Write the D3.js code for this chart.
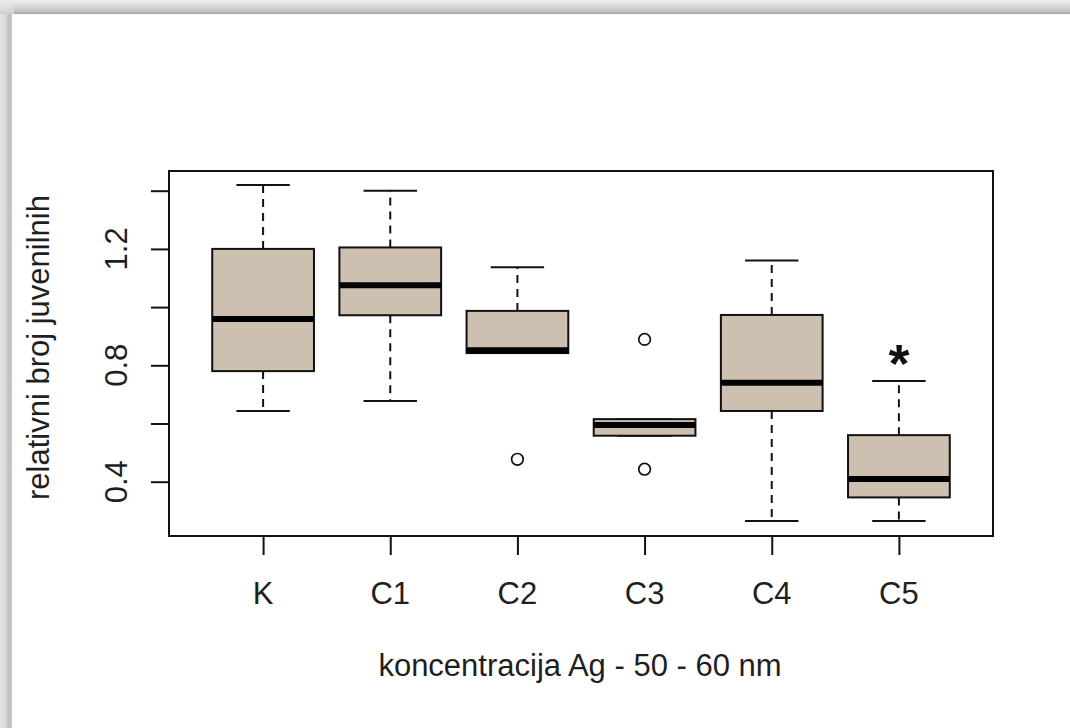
<!DOCTYPE html>
<html>
<head>
<meta charset="utf-8">
<script src="https://cdn.jsdelivr.net/npm/d3@7"></script>
<style>
  html, body { margin: 0; padding: 0; background: #fff; }
  svg { display: block; }
  text { font-family: "Liberation Sans", Arial, sans-serif; fill: #1f1f1f; }
</style>
</head>
<body>
<script>
// ---- data ----
const categories = ["K", "C1", "C2", "C3", "C4", "C5"];
const whiskerLow  = [0.643, 0.677, 0.842, 0.558, 0.265, 0.265];
const q1          = [0.780, 0.972, 0.842, 0.558, 0.643, 0.346];
const median      = [0.959, 1.075, 0.852, 0.595, 0.740, 0.409];
const q3          = [1.200, 1.205, 0.987, 0.615, 0.973, 0.560];
const whiskerHigh = [1.420, 1.400, 1.137, 0.615, 1.160, 0.746];
const outliers    = [[], [], [0.477], [0.889, 0.443], [], []];
const yTicks      = [0.4, 0.6, 0.8, 1.0, 1.2, 1.4];
const yTickLabels = ["0.4", "", "0.8", "", "1.2", ""];
const significant = [false, false, false, false, false, true];
const xTitle = "koncentracija Ag - 50 - 60 nm";
const yTitle = "relativni broj juvenilnih";

const W = 1070, H = 728;
const svg = d3.select("body").append("svg").attr("width", W).attr("height", H);

// ---- shadow frame of the picture ----
const defs = svg.append("defs");
const gTop = defs.append("linearGradient").attr("id", "gtop").attr("x1", 0).attr("y1", 0).attr("x2", 0).attr("y2", 1);
gTop.append("stop").attr("offset", "0%").attr("stop-color", "#eeeeee");
gTop.append("stop").attr("offset", "45%").attr("stop-color", "#d9d9d9");
gTop.append("stop").attr("offset", "85%").attr("stop-color", "#bdbdbd");
gTop.append("stop").attr("offset", "100%").attr("stop-color", "#9e9e9e");
const gLeft = defs.append("linearGradient").attr("id", "gleft").attr("x1", 0).attr("y1", 0).attr("x2", 1).attr("y2", 0);
gLeft.append("stop").attr("offset", "0%").attr("stop-color", "#e4e4e4");
gLeft.append("stop").attr("offset", "55%").attr("stop-color", "#d6d6d6");
gLeft.append("stop").attr("offset", "60%").attr("stop-color", "#c2c2c2");
gLeft.append("stop").attr("offset", "100%").attr("stop-color", "#c6c6c6");
svg.append("rect").attr("x", 0).attr("y", 0).attr("width", 12).attr("height", H).attr("fill", "url(#gleft)");
svg.append("rect").attr("x", 0).attr("y", 0).attr("width", W).attr("height", 14).attr("fill", "url(#gtop)");
svg.append("rect").attr("x", 0).attr("y", 0).attr("width", 14).attr("height", 14).attr("fill", "#e6e6e6").attr("opacity", 0.6);

// ---- scales ----
const plot = { left: 169, right: 993, top: 171, bottom: 536 };
const x = d3.scaleLinear().domain([0.26, categories.length + 0.74]).range([plot.left, plot.right]);
const y = d3.scaleLinear().domain([0.2134, 1.4677]).range([plot.bottom, plot.top]);
const boxW = x(1.8) - x(1);       // boxwex 0.8
const capW = x(1.42) - x(1);      // staple ~0.42

const g = svg.append("g");

// ---- boxes ----
categories.forEach((c, i) => {
  const cx = x(i + 1);
  const dash = "8,6";
  if (whiskerHigh[i] > q3[i]) {
    g.append("line").attr("x1", cx).attr("x2", cx).attr("y1", y(q3[i])).attr("y2", y(whiskerHigh[i]))
      .attr("stroke", "#111").attr("stroke-width", 2).attr("stroke-dasharray", dash);
  }
  if (whiskerLow[i] < q1[i]) {
    g.append("line").attr("x1", cx).attr("x2", cx).attr("y1", y(q1[i])).attr("y2", y(whiskerLow[i]))
      .attr("stroke", "#111").attr("stroke-width", 2).attr("stroke-dasharray", dash);
  }
  [whiskerHigh[i], whiskerLow[i]].forEach(v => {
    g.append("line").attr("x1", cx - capW / 2).attr("x2", cx + capW / 2).attr("y1", y(v)).attr("y2", y(v))
      .attr("stroke", "#111").attr("stroke-width", 2);
  });
  g.append("rect").attr("x", cx - boxW / 2).attr("width", boxW)
    .attr("y", y(q3[i])).attr("height", y(q1[i]) - y(q3[i]))
    .attr("fill", "#CDC0B0").attr("stroke", "#111").attr("stroke-width", 2);
  g.append("line").attr("x1", cx - boxW / 2).attr("x2", cx + boxW / 2).attr("y1", y(median[i])).attr("y2", y(median[i]))
    .attr("stroke", "#000").attr("stroke-width", 6);
  outliers[i].forEach(v => {
    g.append("circle").attr("cx", cx).attr("cy", y(v)).attr("r", 5.8)
      .attr("fill", "none").attr("stroke", "#111").attr("stroke-width", 1.7);
  });
  if (significant[i]) {
    g.append("text").attr("x", cx).attr("y", y(whiskerHigh[i]) + 1)
      .attr("text-anchor", "middle").attr("font-weight", "bold").attr("font-size", 54)
      .style("fill", "#111").text("*");
  }
});

// ---- plot frame ----
svg.append("rect").attr("x", plot.left).attr("y", plot.top)
  .attr("width", plot.right - plot.left).attr("height", plot.bottom - plot.top)
  .attr("fill", "none").attr("stroke", "#111").attr("stroke-width", 2);

// ---- y axis ----
const yAxis = d3.axisLeft(y).tickValues(yTicks).tickSize(18).tickFormat("");
const ya = svg.append("g").attr("transform", `translate(${plot.left},0)`).call(yAxis);
ya.select(".domain").attr("d", `M-0,${y(yTicks[0])}V${y(yTicks[yTicks.length - 1])}`).attr("stroke", "#111").attr("stroke-width", 2);
ya.selectAll(".tick line").attr("stroke", "#111").attr("stroke-width", 2);
yTicks.forEach((v, k) => {
  if (!yTickLabels[k]) return;
  svg.append("text").attr("transform", `translate(127,${y(v)}) rotate(-90)`)
    .attr("text-anchor", "middle").attr("font-size", 31).text(yTickLabels[k]);
});

// ---- x axis ----
const xAxis = d3.axisBottom(x).tickValues(d3.range(1, categories.length + 1)).tickSize(19).tickFormat("");
const xa = svg.append("g").attr("transform", `translate(0,${plot.bottom})`).call(xAxis);
xa.select(".domain").attr("d", `M${x(1)},0H${x(categories.length)}`).attr("stroke", "#111").attr("stroke-width", 2);
xa.selectAll(".tick line").attr("stroke", "#111").attr("stroke-width", 2);
categories.forEach((c, i) => {
  svg.append("text").attr("x", x(i + 1)).attr("y", 604).attr("text-anchor", "middle")
    .attr("font-size", 31).text(c);
});

// ---- titles ----
svg.append("text").attr("x", (plot.left + plot.right) / 2 - 1).attr("y", 676).attr("text-anchor", "middle")
  .attr("font-size", 31).text(xTitle);
svg.append("text").attr("transform", `translate(49,${(plot.top + plot.bottom) / 2 - 6}) rotate(-90)`)
  .attr("text-anchor", "middle").attr("font-size", 31).text(yTitle);
</script>
</body>
</html>
